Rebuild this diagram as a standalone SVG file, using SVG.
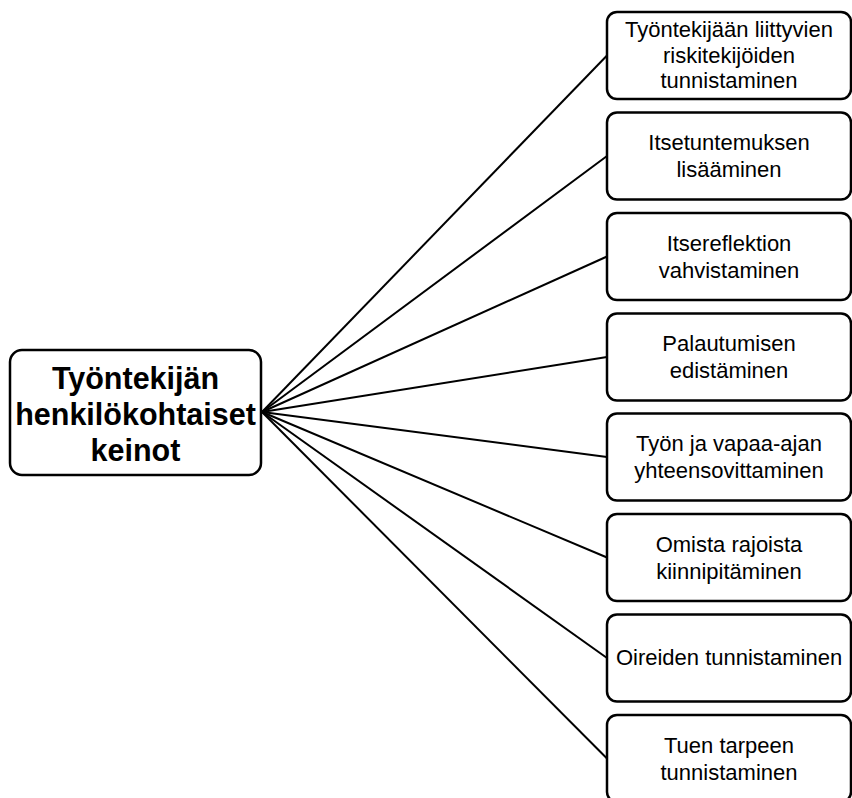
<svg xmlns="http://www.w3.org/2000/svg" width="852" height="798" viewBox="0 0 852 798">
<style>
.box{fill:#fff;stroke:#000;stroke-width:2.5}
.t{font-family:"Liberation Sans",Arial,sans-serif;font-size:22px;text-anchor:middle;fill:#000}
.tb{font-family:"Liberation Sans",Arial,sans-serif;font-size:30.5px;font-weight:bold;text-anchor:middle;fill:#000}
.c{stroke:#000;stroke-width:2;fill:none}
</style>
<rect width="852" height="798" fill="#fff"/>
<g id="connectors">
<line class="c" x1="262" y1="412" x2="607" y2="55.5"/>
<line class="c" x1="262" y1="412" x2="607" y2="156"/>
<line class="c" x1="262" y1="412" x2="607" y2="256.5"/>
<line class="c" x1="262" y1="412" x2="607" y2="357"/>
<line class="c" x1="262" y1="412" x2="607" y2="457"/>
<line class="c" x1="262" y1="412" x2="607" y2="557.5"/>
<line class="c" x1="262" y1="412" x2="607" y2="658"/>
<line class="c" x1="262" y1="412" x2="607" y2="758.5"/>
</g>
<g id="root">
<rect class="box" x="10" y="350" width="251" height="125" rx="12"/>
<text class="tb" x="135.5" y="389">Työntekijän</text>
<text class="tb" x="135.5" y="425">henkilökohtaiset</text>
<text class="tb" x="135.5" y="461">keinot</text>
</g>
<g id="n1">
<rect class="box" x="607" y="12" width="244" height="87" rx="10"/>
<text class="t" x="729" y="37">Työntekijään liittyvien</text>
<text class="t" x="729" y="63">riskitekijöiden</text>
<text class="t" x="729" y="88">tunnistaminen</text>
</g>
<g id="n2">
<rect class="box" x="607" y="112.5" width="244" height="87" rx="10"/>
<text class="t" x="729" y="150">Itsetuntemuksen</text>
<text class="t" x="729" y="177">lisääminen</text>
</g>
<g id="n3">
<rect class="box" x="607" y="213" width="244" height="87" rx="10"/>
<text class="t" x="729" y="250.5">Itsereflektion</text>
<text class="t" x="729" y="277.5">vahvistaminen</text>
</g>
<g id="n4">
<rect class="box" x="607" y="313.5" width="244" height="87" rx="10"/>
<text class="t" x="729" y="351">Palautumisen</text>
<text class="t" x="729" y="378">edistäminen</text>
</g>
<g id="n5">
<rect class="box" x="607" y="413.5" width="244" height="87" rx="10"/>
<text class="t" x="729" y="451">Työn ja vapaa-ajan</text>
<text class="t" x="729" y="478">yhteensovittaminen</text>
</g>
<g id="n6">
<rect class="box" x="607" y="514" width="244" height="87" rx="10"/>
<text class="t" x="729" y="551.5">Omista rajoista</text>
<text class="t" x="729" y="578.5">kiinnipitäminen</text>
</g>
<g id="n7">
<rect class="box" x="607" y="614.5" width="244" height="87" rx="10"/>
<text class="t" x="729" y="665">Oireiden tunnistaminen</text>
</g>
<g id="n8">
<rect class="box" x="607" y="715" width="244" height="87" rx="10"/>
<text class="t" x="729" y="752.5">Tuen tarpeen</text>
<text class="t" x="729" y="779.5">tunnistaminen</text>
</g>
</svg>
